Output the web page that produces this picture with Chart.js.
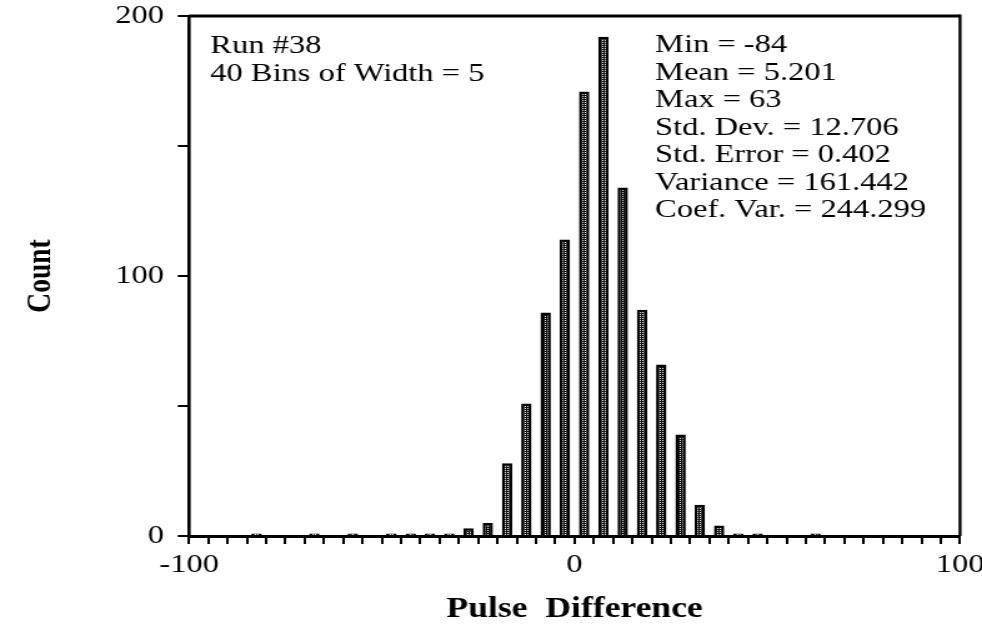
<!DOCTYPE html>
<html>
<head>
<meta charset="utf-8">
<title>Pulse Difference</title>
<script src="https://cdn.jsdelivr.net/npm/chart.js@4.4.1/dist/chart.umd.min.js"></script>
<style>
  html, body { margin: 0; padding: 0; background: #fff; }
  /* the old plotting font is wide, so the whole plot is drawn narrow and stretched */
  #wrap { width: 786px; height: 630px; transform: scaleX(1.2494); transform-origin: 0 0; }
  canvas { display: block; }
</style>
</head>
<body>
<div id="wrap"><canvas id="histChart" width="786" height="630"></canvas></div>
<script>
// histogram of run #38
const binStart = -100;
const binWidth = 5;
const counts = [
	0, 0, 0, 1, 0, 0, 1, 0, 1, 0,
	1, 1, 1, 1, 3, 5, 28, 51, 86, 114,
	171, 192, 134, 87, 66, 39, 12, 4, 1, 1,
	0, 0, 1, 0, 0, 0, 0, 0, 0, 0,
];
const xLabels = [-100, 0, 100];
const yLabels = [0, 100, 200];
const infoLeft = ["Run #38", "40 Bins of Width = 5"];
const infoRight = [
	"Min = -84",
	"Mean = 5.201",
	"Max = 63",
	"Std. Dev. = 12.706",
	"Std. Error = 0.402",
	"Variance = 161.442",
	"Coef. Var. = 244.299",
];

const serif = '"Liberation Serif", "Times New Roman", serif';

// dark stipple fill for the bars
function makeStipple() {
	const c = document.createElement("canvas");
	c.width = 2;
	c.height = 2;
	const g = c.getContext("2d");
	g.fillStyle = "#0c0c0c";
	g.fillRect(0, 0, 2, 2);
	g.fillStyle = "#e8e8e8";
	g.fillRect(0, 0, 1, 1);
	return g.createPattern(c, "repeat");
}

const points = counts.map((n, i) => ({ x: binStart + binWidth * (i + 0.5), y: n }));

// box on top/right plus the two text blocks
const annotations = {
	id: "annotations",
	afterDraw(chart) {
		const { ctx, chartArea } = chart;
		ctx.save();
		ctx.strokeStyle = "#000";
		ctx.lineWidth = 3;
		ctx.beginPath();
		ctx.moveTo(chartArea.left, chartArea.top);
		ctx.lineTo(chartArea.right, chartArea.top);
		ctx.stroke();
		ctx.lineWidth = 2.4;
		ctx.beginPath();
		ctx.moveTo(chartArea.right, chartArea.top - 1.5);
		ctx.lineTo(chartArea.right, chartArea.bottom);
		ctx.stroke();

		ctx.fillStyle = "#000";
		ctx.font = "26px " + serif;
		ctx.textAlign = "left";
		ctx.textBaseline = "alphabetic";
		infoLeft.forEach((t, i) => ctx.fillText(t, chartArea.left + 17, chartArea.top + 37 + i * 27.5));
		infoRight.forEach((t, i) => ctx.fillText(t, chartArea.left + 373, chartArea.top + 36 + i * 27.5));
		ctx.restore();
	},
};

const ctx = document.getElementById("histChart").getContext("2d");

new Chart(ctx, {
	type: "bar",
	data: {
		datasets: [
			{
				data: points,
				backgroundColor: makeStipple(),
				borderColor: "#000",
				borderWidth: 2.5,
				borderSkipped: "start",
				barPercentage: 0.54,
				categoryPercentage: 1,
			},
		],
	},
	options: {
		responsive: false,
		animation: false,
		devicePixelRatio: 1,
		layout: { padding: { left: 0, top: 16, right: 17.6, bottom: 0 } },
		plugins: {
			legend: { display: false },
			tooltip: { enabled: false },
		},
		scales: {
			x: {
				type: "linear",
				min: -100,
				max: 100,
				offset: false,
				grid: { offset: false, drawOnChartArea: false, color: "#000", lineWidth: 2, tickLength: 8 },
				border: { color: "#000", width: 3 },
				ticks: {
					stepSize: 5,
					autoSkip: false,
					maxRotation: 0,
					padding: 6,
					color: "#000",
					font: { family: serif, size: 26 },
					callback: (v) => (xLabels.includes(v) ? String(v) : ""),
				},
				title: {
					display: true,
					text: "Pulse  Difference",
					color: "#000",
					font: { family: serif, size: 28.5, weight: "bold" },
					padding: { top: 0, bottom: 3 },
				},
				afterFit(scale) {
					scale.height = 94;
					scale.paddingLeft = 0;
					scale.paddingRight = 0;
				},
			},
			y: {
				min: 0,
				max: 200,
				grid: { drawOnChartArea: false, color: "#000", lineWidth: 2, tickLength: 9 },
				border: { color: "#000", width: 2.6 },
				ticks: {
					stepSize: 50,
					autoSkip: false,
					padding: 11,
					color: "#000",
					font: { family: serif, size: 26 },
					callback: (v) => (yLabels.includes(v) ? String(v) : ""),
				},
				title: {
					display: true,
					text: "Count",
					color: "#000",
					font: { family: serif, size: 27.5, weight: "bold" },
					padding: { top: 16, bottom: 0 },
				},
				afterFit(scale) {
					scale.width = 151.3;
					scale.paddingTop = 0;
					scale.paddingBottom = 0;
				},
			},
		},
	},
	plugins: [annotations],
});
</script>
</body>
</html>
